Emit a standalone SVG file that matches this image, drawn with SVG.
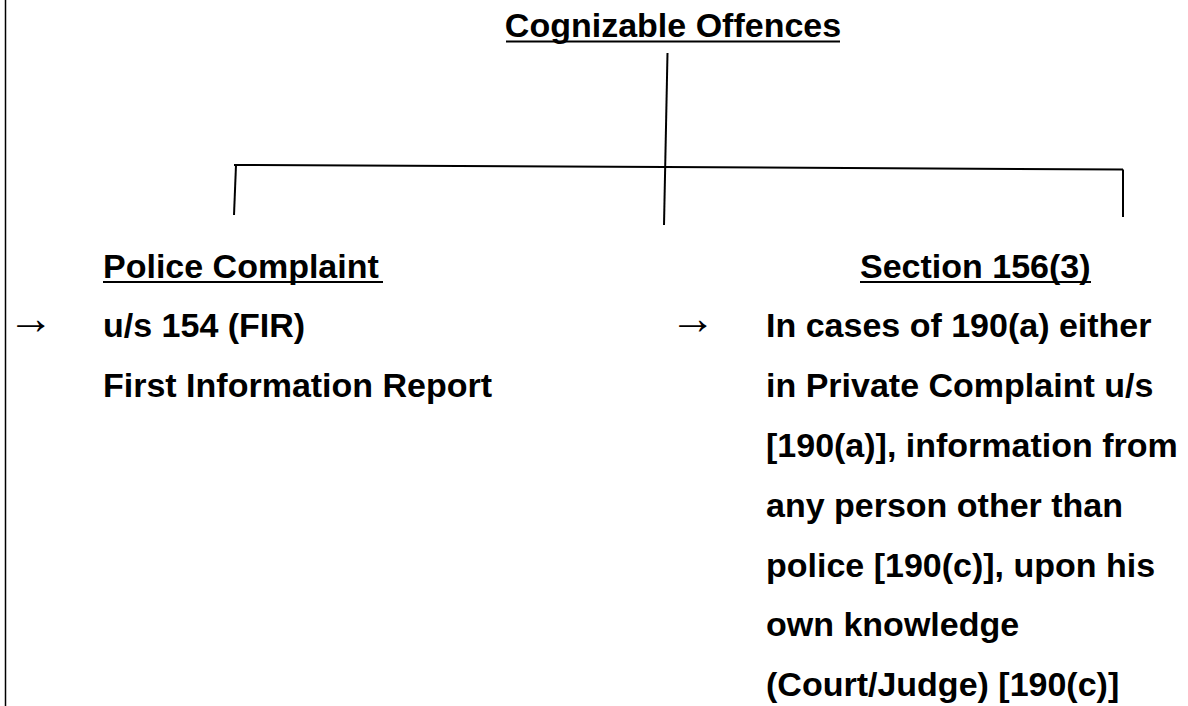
<svg xmlns="http://www.w3.org/2000/svg" width="1188" height="706" viewBox="0 0 1188 706">
<style>
.t{font-family:"Liberation Sans",Arial,sans-serif;font-weight:bold;font-size:34px;fill:#000}
.a{font-family:"Liberation Serif","DejaVu Serif",serif;font-size:46px;fill:#000}
.ln{stroke:#000;stroke-width:2;fill:none}
</style>
<rect width="1188" height="706" fill="#fff"/>
<line x1="5.5" y1="0" x2="5.5" y2="706" stroke="#000" stroke-width="1.5"/>
<g id="connectors">
<line class="ln" x1="667.5" y1="53" x2="664" y2="225"/>
<polyline class="ln" points="234,165 665,167 1123,169.5"/>
<line class="ln" x1="236" y1="165" x2="234" y2="215"/>
<line class="ln" x1="1123" y1="169.5" x2="1123" y2="217"/>
</g>
<g id="root">
<text class="t" x="673" y="37" text-anchor="middle">Cognizable Offences</text>
<line class="ln" x1="506" y1="41.5" x2="840" y2="41.5"/>
</g>
<g id="police">
<text class="t" x="103" y="278">Police Complaint</text>
<line class="ln" x1="103" y1="282" x2="383" y2="282"/>
<text class="a" x="8" y="334">→</text>
<text class="t" x="103" y="337">u/s 154 (FIR)</text>
<text class="t" x="103" y="397">First Information Report</text>
</g>
<g id="section">
<text class="t" x="860" y="278">Section 156(3)</text>
<line class="ln" x1="860" y1="282" x2="1091" y2="282"/>
<text class="a" x="670" y="334">→</text>
<text class="t" x="766" y="337">In cases of 190(a) either</text>
<text class="t" x="766" y="397">in Private Complaint u/s</text>
<text class="t" x="766" y="456.5">[190(a)], information from</text>
<text class="t" x="766" y="516.5">any person other than</text>
<text class="t" x="766" y="576.5">police [190(c)], upon his</text>
<text class="t" x="766" y="636">own knowledge</text>
<text class="t" x="766" y="696">(Court/Judge) [190(c)]</text>
</g>
</svg>
